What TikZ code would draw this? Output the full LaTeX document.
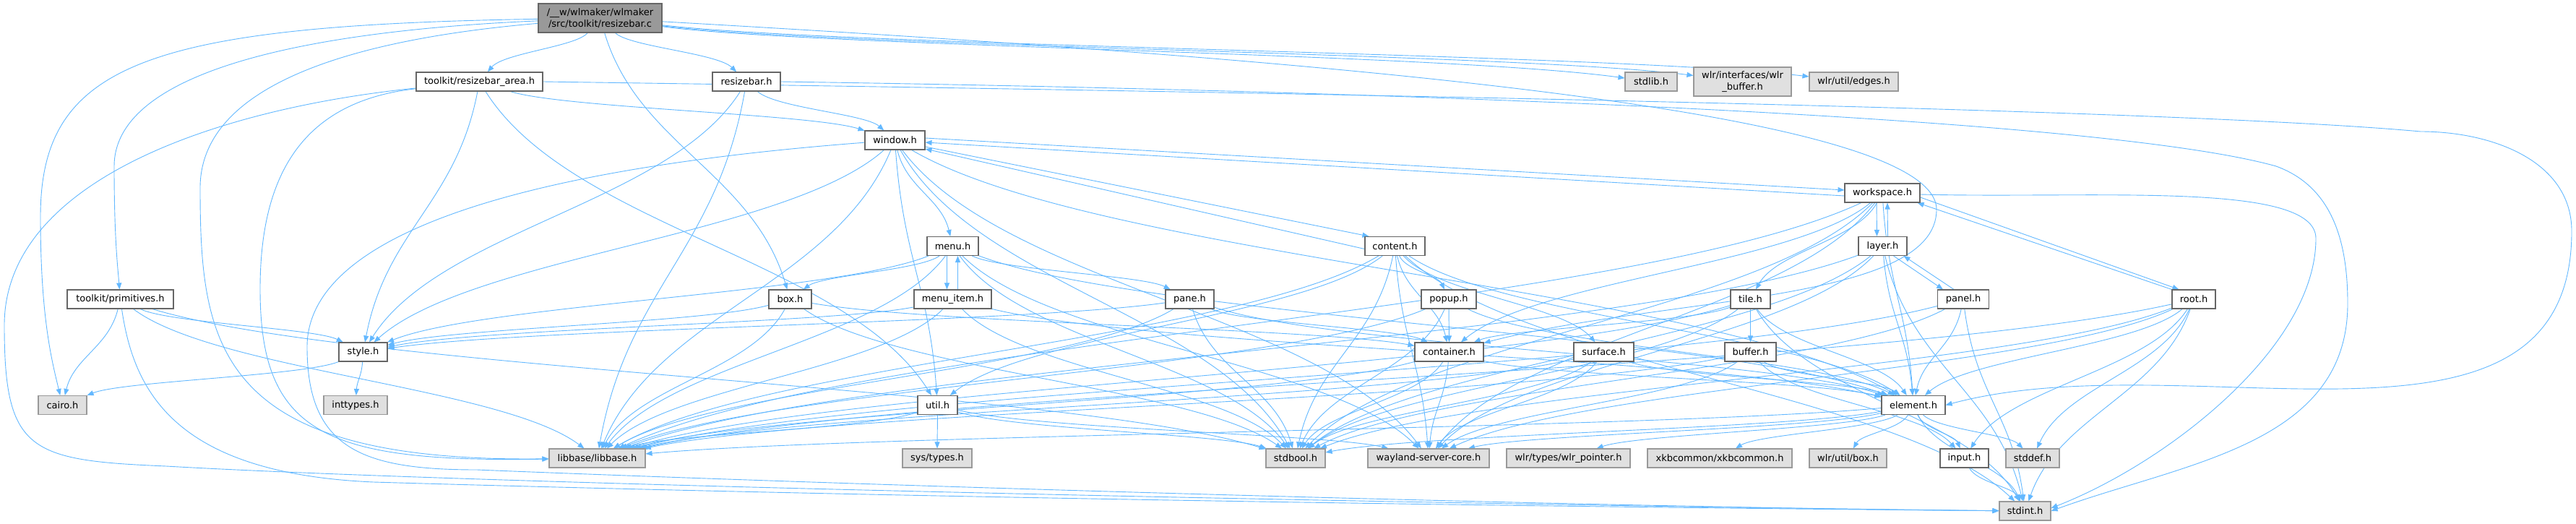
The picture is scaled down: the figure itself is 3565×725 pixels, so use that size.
\documentclass[tikz,border=0pt]{standalone}
\usepackage{fontspec}
\setmainfont{DejaVu Sans}
\usetikzlibrary{arrows.meta,calc}
\definecolor{edgeblue}{HTML}{63B8FF}
\definecolor{intborder}{HTML}{666666}
\definecolor{extborder}{HTML}{999999}
\definecolor{extfill}{HTML}{E0E0E0}
\definecolor{rootfill}{HTML}{999999}
\pgfdeclarelayer{bg}
\pgfsetlayers{bg,main}
\tikzset{
 basebox/.style={draw, line width=1.1pt, inner sep=0pt, minimum height=26pt, font=\fontsize{13}{15.5}\selectfont, align=center},
 intn/.style={basebox, draw=intborder, fill=white},
 extn/.style={basebox, draw=extborder, fill=extfill},
 rootn/.style={basebox, draw=intborder, fill=rootfill},
 dep/.style={draw=edgeblue, line width=0.9pt, -{Triangle[length=9pt,width=7pt]}},
}
\newcommand\depedge[2]{\draw[dep] let \p1=(#1), \p2=(#2) in (#1) .. controls ({\x1+0.2*(\x2-\x1)},{\y1+0.45*(\y2-\y1)}) and ({\x2-0.2*(\x2-\x1)},{\y2-0.45*(\y2-\y1)}) .. (#2);}
\begin{document}
\begin{tikzpicture}[x=1pt,y=-1pt]
\useasboundingbox (0,0) rectangle (3565,725);
% nodes
\node[rootn, minimum width=171pt, minimum height=40pt] (R) at (830.5,25) {/\_\_w/wlmaker/wlmaker\\/src/toolkit/resizebar.c};
\node[intn, minimum width=175pt] (RA) at (663.5,113) {toolkit/resizebar\_area.h};
\node[intn, minimum width=94pt] (RB) at (1033,113) {resizebar.h};
\node[extn, minimum width=72pt] (stdlib) at (2285,113) {stdlib.h};
\node[extn, minimum width=135pt, minimum height=40pt] (wlrbuf) at (2411.5,113) {wlr/interfaces/wlr\\\_buffer.h};
\node[extn, minimum width=123pt] (edges) at (2565.5,113) {wlr/util/edges.h};
\node[intn, minimum width=83pt] (window) at (1238.5,194) {window.h};
\node[intn, minimum width=104pt] (workspace) at (2605,267) {workspace.h};
\node[intn, minimum width=71pt] (menu) at (1318.5,340.5) {menu.h};
\node[intn, minimum width=83pt] (content) at (1930.5,340.5) {content.h};
\node[intn, minimum width=67pt] (layer) at (2605.5,340.5) {layer.h};
\node[intn, minimum width=147pt] (PR) at (166.5,414) {toolkit/primitives.h};
\node[intn, minimum width=59pt] (box) at (1093.5,414) {box.h};
\node[intn, minimum width=107pt] (menuitem) at (1318.5,414) {menu\_item.h};
\node[intn, minimum width=67pt] (pane) at (1646.5,414) {pane.h};
\node[intn, minimum width=76pt] (popup) at (2005,414) {popup.h};
\node[intn, minimum width=55pt] (tile) at (2422.5,414) {tile.h};
\node[intn, minimum width=71pt] (panel) at (2717,414) {panel.h};
\node[intn, minimum width=60pt] (rooth) at (3036,414) {root.h};
\node[intn, minimum width=67pt] (style) at (502.5,487) {style.h};
\node[intn, minimum width=95pt] (container) at (2005.5,487) {container.h};
\node[intn, minimum width=83pt] (surface) at (2219.5,487) {surface.h};
\node[intn, minimum width=71pt] (buffer) at (2422.5,487) {buffer.h};
\node[extn, minimum width=67pt] (cairo) at (86.5,560.5) {cairo.h};
\node[extn, minimum width=88pt] (inttypes) at (492,560.5) {inttypes.h};
\node[intn, minimum width=55pt] (util) at (1297.5,560.5) {util.h};
\node[intn, minimum width=88pt] (element) at (2648,560.5) {element.h};
\node[extn, minimum width=133pt] (libbase) at (826.5,634) {libbase/libbase.h};
\node[extn, minimum width=96pt] (systypes) at (1297,634) {sys/types.h};
\node[extn, minimum width=82pt] (stdbool) at (1793,634) {stdbool.h};
\node[extn, minimum width=168pt] (wayland) at (1977,634) {wayland-server-core.h};
\node[extn, minimum width=171pt] (wlrptr) at (2170.5,634) {wlr/types/wlr\_pointer.h};
\node[extn, minimum width=200pt] (xkb) at (2380,634) {xkbcommon/xkbcommon.h};
\node[extn, minimum width=107pt] (wlrbox) at (2557.5,634) {wlr/util/box.h};
\node[intn, minimum width=67pt] (input) at (2718.5,634) {input.h};
\node[extn, minimum width=74pt] (stddef) at (2813,634) {stddef.h};
\node[extn, minimum width=71pt] (stdint) at (2802.5,707) {stdint.h};
% bend points of the long routes
\coordinate (loopA) at (3559,320);
\coordinate (loopB) at (3249,420);
\coordinate (loopC) at (3205,330);
% edges
\begin{pgfonlayer}{bg}
% root file
\depedge{R}{RA} \depedge{R}{RB} \depedge{R}{box}
\depedge{R}{stdlib} \depedge{R}{wlrbuf} \depedge{R}{edges}
\draw[dep] (R) .. controls (200,35) and (56,90) .. (56,300) .. controls (56,440) and (72,500) .. (cairo);
\draw[dep] (R) .. controls (380,45) and (158,110) .. (158,230) .. controls (158,330) and (163,370) .. (PR);
\draw[dep] (R) .. controls (480,55) and (277,120) .. (277,260) .. controls (277,480) and (300,640) .. (libbase);
\draw[dep] (R) .. controls (1800,80) and (2680,150) .. (2680,290) .. controls (2680,420) and (2300,410) .. (container);
% resizebar_area.h
\depedge{RA}{window} \depedge{RA}{style} \depedge{RA}{util}
\draw[dep] (RA) .. controls (420,140) and (360,240) .. (360,400) .. controls (360,600) and (450,640) .. (libbase);
\draw[dep] (RA) .. controls (300,150) and (6,250) .. (6,450) .. controls (6,625) and (40,637) .. (230,645) .. controls (700,672) and (2100,700) .. (stdint);
\draw[dep] (RA.east) .. controls (1800,128) and (3000,150) .. (3350,182) to[out=0,in=90] (loopA) to[out=-90,in=15] (element.east);
% resizebar.h
\depedge{RB}{window} \depedge{RB}{style} \depedge{RB}{libbase}
\draw[dep] (RB.east) .. controls (1900,125) and (2900,160) .. (3150,230) to[out=-20,in=90] (loopB) to[out=-90,in=20] (stdint.east);
% primitives.h
\depedge{PR}{cairo} \depedge{PR}{style} \depedge{PR}{libbase} \depedge{PR}{stdbool}
\draw[dep] (PR) .. controls (185,540) and (240,655) .. (517,667) .. controls (1300,690) and (2200,702) .. (stdint);
% style.h
\depedge{style}{cairo} \depedge{style}{inttypes}
% window.h
\depedge{window}{menu} \depedge{window}{style} \depedge{window}{libbase} \depedge{window}{stdbool}
\depedge{window}{wayland} \depedge{window}{element} \depedge{window}{util}
\draw[dep] ([yshift=-9pt]window.east) -- ([xshift=6pt]content.north west);
\draw[dep] ([yshift=3pt]window.east) -- ([yshift=4pt]workspace.west);
\draw[dep] (window) .. controls (700,235) and (425,330) .. (425,480) .. controls (425,620) and (500,650) .. (660,650) .. controls (1200,672) and (2200,702) .. (stdint);
% workspace.h
\depedge{workspace}{tile} \depedge{workspace}{element} \depedge{workspace}{container} \depedge{workspace}{libbase}
\depedge{workspace}{stdbool} \depedge{workspace}{wayland}
\draw[dep] ([yshift=-2pt]workspace.east) .. controls (2900,275) and (3205,250) .. (loopC) .. controls (3205,480) and (3000,640) .. ([yshift=4pt]stdint.east);
\draw[dep] ([yshift=-4pt]workspace.west) -- ([yshift=-3pt]window.east);
\draw[dep] ([xshift=-8pt]workspace.south) -- ([xshift=-8pt]layer.north);
\draw[dep] ([yshift=-6pt]workspace.east) -- ([xshift=10pt]rooth.north west);
% menu.h
\depedge{menu}{box} \depedge{menu}{pane} \depedge{menu}{style} \depedge{menu}{libbase}
\depedge{menu}{stdbool} \depedge{menu}{wayland} \depedge{menu}{element}
\draw[dep] ([xshift=-8pt]menu.south) -- ([xshift=-8pt]menuitem.north);
% menu_item.h
\depedge{menuitem}{style} \depedge{menuitem}{libbase} \depedge{menuitem}{stdbool} \depedge{menuitem}{element}
\draw[dep] ([xshift=7pt]menuitem.north) -- ([xshift=7pt]menu.south);
% content.h
\depedge{content}{popup} \depedge{content}{container} \depedge{content}{util} \depedge{content}{surface}
\depedge{content}{element} \depedge{content}{libbase} \depedge{content}{stdbool} \depedge{content}{wayland} \depedge{content}{stdint}
\draw[dep] ([yshift=-4pt]content.west) -- ([yshift=-12pt]window.east);
% layer.h
\depedge{layer}{element} \depedge{layer}{libbase} \depedge{layer}{stdbool} \depedge{layer}{wayland} \depedge{layer}{stdint}
\draw[dep] ([xshift=7pt]layer.north) -- ([xshift=7pt]workspace.south);
\draw[dep] ([xshift=15pt]layer.south) -- ([xshift=-28pt]panel.north);
% box.h
\depedge{box}{container} \depedge{box}{style} \depedge{box}{libbase} \depedge{box}{stdbool}
% pane.h
\depedge{pane}{container} \depedge{pane}{element} \depedge{pane}{libbase} \depedge{pane}{stdbool} \depedge{pane}{style}
% popup.h
\depedge{popup}{container} \depedge{popup}{element} \depedge{popup}{libbase} \depedge{popup}{stdbool}
% tile.h
\depedge{tile}{buffer} \depedge{tile}{container} \depedge{tile}{element} \depedge{tile}{stdbool} \depedge{tile}{stdint} \depedge{tile}{libbase}
% panel.h
\depedge{panel}{element} \depedge{panel}{stdint} \depedge{panel}{libbase} \depedge{panel}{stdbool}
\draw[dep] ([xshift=-13pt]panel.north) -- ([xshift=29pt]layer.south);
% root.h
\depedge{rooth}{element} \depedge{rooth}{libbase} \depedge{rooth}{stdbool} \depedge{rooth}{stdint}
\depedge{rooth}{wayland} \depedge{rooth}{input} \depedge{rooth}{stddef}
\draw[dep] (rooth.north west) -- ([xshift=-4pt]workspace.south east);
% container.h
\depedge{container}{element} \depedge{container}{libbase} \depedge{container}{stdbool} \depedge{container}{wayland}
% surface.h
\depedge{surface}{element} \depedge{surface}{libbase} \depedge{surface}{stdbool} \depedge{surface}{wayland}
% buffer.h
\depedge{buffer}{element} \depedge{buffer}{input} \depedge{buffer}{wayland} \depedge{buffer}{libbase}
% util.h
\depedge{util}{systypes} \depedge{util}{libbase} \depedge{util}{stdbool} \depedge{util}{wayland}
% element.h
\depedge{element}{libbase} \depedge{element}{wayland} \depedge{element}{stdbool} \depedge{element}{wlrptr}
\depedge{element}{xkb} \depedge{element}{wlrbox} \depedge{element}{input} \depedge{element}{stddef} \depedge{element}{stdint}
% input.h
\depedge{input}{stdint}
\end{pgfonlayer}
\end{tikzpicture}
\end{document}
